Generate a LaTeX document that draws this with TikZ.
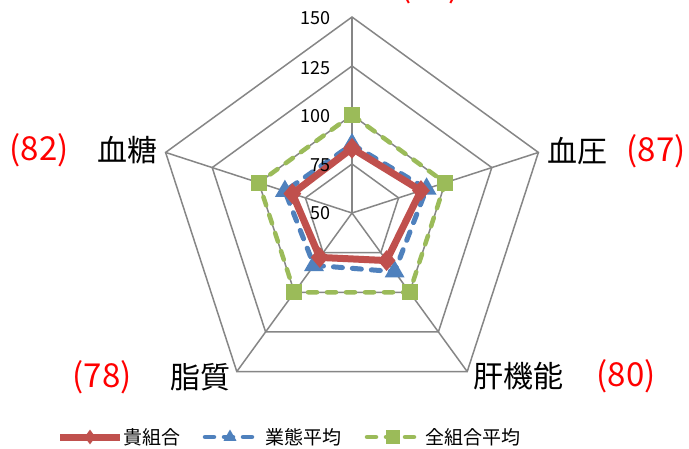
\documentclass[tikz,border=0pt]{standalone}
\usepackage{fontspec}
\setmainfont{Noto Sans CJK JP}
\usetikzlibrary{shapes.geometric}
\definecolor{redc}{HTML}{C0504D}
\definecolor{bluec}{HTML}{4F81BD}
\definecolor{greenc}{HTML}{9BBB59}
\definecolor{gridc}{HTML}{868686}
\definecolor{labred}{HTML}{FF0000}
\begin{document}
\begin{tikzpicture}[x=1pt,y=-1pt,
  gridline/.style={draw=gridc, line width=1.5pt, line join=miter},
  redser/.style={draw=redc, line width=7pt, line join=round},
  blueser/.style={draw=bluec, line width=5pt, line cap=round, dash pattern=on 9pt off 10pt},
  greenser/.style={draw=greenc, line width=4.5pt, line cap=round, dash pattern=on 9pt off 10pt},
  redmark/.style={diamond, fill=redc, inner sep=0pt, minimum width=18pt, minimum height=21pt},
  bluemark/.style={regular polygon, regular polygon sides=3, fill=bluec, inner sep=0pt, minimum size=23pt},
  greenmark/.style={rectangle, fill=greenc, inner sep=0pt, minimum size=16pt},
  catlabel/.style={font=\fontsize{30}{36}\selectfont, inner sep=0pt},
  vallabel/.style={font=\fontsize{33}{38}\selectfont, text=labred, inner sep=0pt},
  axlabel/.style={font=\fontsize{18}{22}\selectfont, anchor=east, inner sep=0pt},
  legtext/.style={font=\fontsize{19}{23}\selectfont, anchor=west, inner sep=0pt},
]
\useasboundingbox (0,0) rectangle (689,448);
\fill[white] (0,0) rectangle (689,448);

\begin{scope}[shift={(352,213)}, x=1.96pt, y=1.96pt]
  % grid rings
  \foreach \r in {25,50,75,100}
    \draw[gridline] (90:\r) -- (18:\r) -- (-54:\r) -- (-126:\r) -- (162:\r) -- cycle;
  % spokes
  \coordinate (c0) at (0,0);
  \foreach \a/\n in {90/s1,18/s2,-54/s3,-126/s4,162/s5} {
    \coordinate (\n) at (\a:100);
    \draw[gridline] (c0) -- (\n);
  }
  % data points (value - 50)
  \coordinate (g1) at (90:50);  \coordinate (g2) at (18:50);  \coordinate (g3) at (-54:50);
  \coordinate (g4) at (-126:50); \coordinate (g5) at (162:50);
  \coordinate (b1) at (90:35);  \coordinate (b2) at (18:40);  \coordinate (b3) at (-54:37);
  \coordinate (b4) at (-126:33); \coordinate (b5) at (162:36);
  \coordinate (r1) at (90:33);  \coordinate (r2) at (18:37);  \coordinate (r3) at (-54:30);
  \coordinate (r4) at (-126:28); \coordinate (r5) at (162:32);
  % series
  \draw[greenser] (g1) -- (g2) -- (g3) -- (g4) -- (g5) -- cycle;
  \foreach \p in {g1,g2,g3,g4,g5} \node[greenmark] (m\p) at (\p) {};
  \draw[blueser] (b1) -- (b2) -- (b3) -- (b4) -- (b5) -- cycle;
  \foreach \p in {b1,b2,b3,b4,b5} \node[bluemark] (m\p) at (\p) {};
  \draw[redser] (r1) -- (r2) -- (r3) -- (r4) -- (r5) -- cycle;
  \foreach \p in {r1,r2,r3,r4,r5} \node[redmark] (m\p) at (\p) {};
\end{scope}

% axis labels
\node[axlabel] (t150) at (331,18) {150};
\node[axlabel] (t125) at (331,68) {125};
\node[axlabel] (t100) at (331,116) {100};
\node[axlabel] (t75) at (331,165) {75};
\node[axlabel] (t50) at (331,213) {50};

% category labels
\node[catlabel] (k1) at (127,150) {血糖};
\node[vallabel] (v1) at (39,150) {(82)};
\node[catlabel] (k2) at (577,151) {血圧};
\node[vallabel] (v2) at (656,151) {(87)};
\node[catlabel] (k3) at (200,377) {脂質};
\node[vallabel] (v3) at (102,377) {(78)};
\node[catlabel] (k4) at (518,376) {肝機能};
\node[vallabel] (v4) at (626,376) {(80)};
\node[vallabel] (v0) at (430,-13) {(83)};

% legend
\coordinate (la1) at (60,437); \coordinate (la2) at (120,437);
\draw[redc, line width=7pt] (la1) -- (la2);
\node[redmark, minimum width=11pt, minimum height=15pt] (lm1) at (90,437) {};
\node[legtext] (lt1) at (123,437) {貴組合};
\coordinate (lb1) at (205,437); \coordinate (lb2) at (260,437);
\draw[blueser, line width=4.5pt] (lb1) -- (lb2);
\node[bluemark, minimum size=15pt] (lm2) at (230,437) {};
\node[legtext] (lt2) at (265,437) {業態平均};
\coordinate (lc1) at (367,437); \coordinate (lc2) at (420,437);
\draw[greenser] (lc1) -- (lc2);
\node[greenmark, minimum size=14pt] (lm3) at (393,437) {};
\node[legtext] (lt3) at (425,437) {全組合平均};
\end{tikzpicture}
\end{document}
